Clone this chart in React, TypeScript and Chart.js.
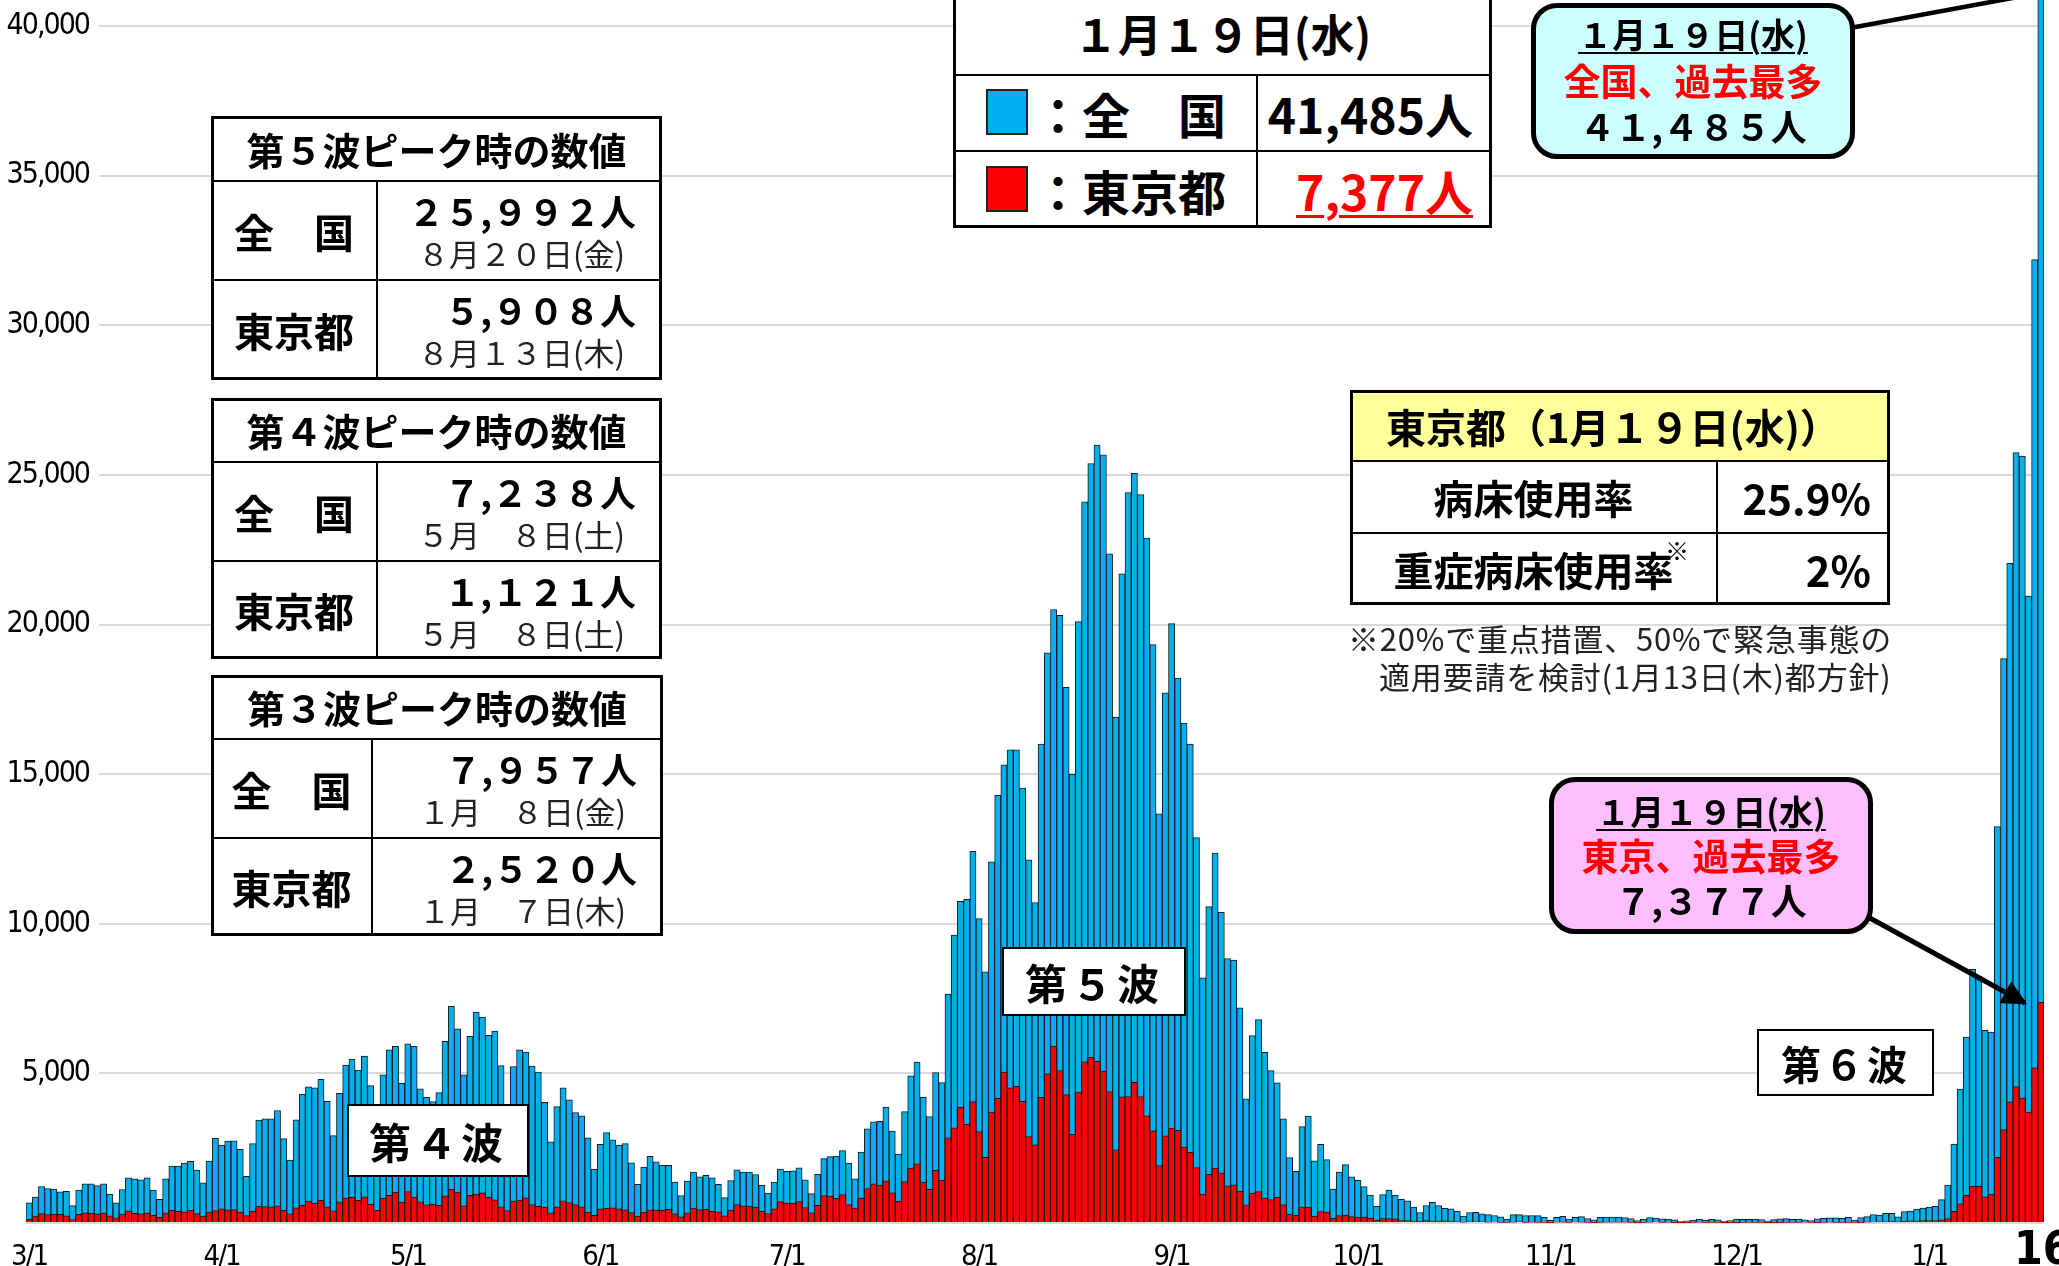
import React, { useEffect, useRef, Fragment } from 'react';
import { Chart, registerables } from 'chart.js';
Chart.register(...registerables);

// ---- categories (2021/3/1 .. 2022/1/19) ----
const monthDays: [number, number][] = [[3, 31], [4, 30], [5, 31], [6, 30], [7, 31], [8, 31], [9, 30], [10, 31], [11, 30], [12, 31], [1, 19]];
const dateLabels: string[] = [];
monthDays.forEach(([m, d]) => { for (let i = 1; i <= d; i++) dateLabels.push(`${m}/${i}`); });

// ---- y tick values ----
const yTicks = [0, 5000, 10000, 15000, 20000, 25000, 30000, 35000, 40000];

// ---- 全国 (nationwide) daily new cases ----
const japanMar = [670, 870, 1220, 1150, 1130, 1040, 1060, 580, 1100, 1310, 1310, 1250, 1310, 960, 670, 1120, 1510, 1480, 1440, 1510, 1100, 790, 1480, 1900, 1900, 2000, 2060, 1770, 1340, 2070, 2830];
const japanApr = [2600, 2740, 2750, 2460, 1560, 2650, 3440, 3480, 3480, 3760, 2820, 2100, 3450, 4300, 4550, 4520, 4800, 4070, 2920, 4330, 5280, 5480, 5110, 5580, 4590, 3300, 4950, 5790, 5900, 4670];
const japanMay = [5990, 5900, 4480, 4200, 4060, 4360, 6070, 7238, 6490, 4950, 6240, 7050, 6880, 6270, 6410, 5260, 3680, 5230, 5790, 5710, 5240, 5040, 4030, 2710, 3890, 4520, 4120, 3690, 3580, 2850, 1790];
const japanJun = [2630, 3020, 2780, 2600, 2650, 2010, 1290, 1870, 2230, 2040, 1930, 1930, 1370, 920, 1400, 1700, 1540, 1590, 1510, 1290, 850, 1420, 1780, 1700, 1700, 1620, 1260, 1000, 1370, 1800];
const japanJul = [1730, 1740, 1840, 1440, 980, 1630, 2150, 2220, 2240, 2420, 2000, 1480, 2370, 3150, 3380, 3400, 3870, 3070, 2300, 3720, 4920, 5380, 4200, 3560, 5030, 4690, 7650, 9620, 10750, 10820, 12420];
const japanAug = [10170, 8390, 12070, 14290, 15310, 15810, 15810, 14530, 12140, 10710, 16000, 19050, 20500, 20310, 17900, 15000, 20100, 24100, 25380, 25992, 25670, 22360, 16910, 21690, 24410, 25050, 24340, 22890, 19330, 13670, 17720];
const japanSep = [20030, 18210, 16710, 16000, 12880, 8190, 10570, 12360, 10380, 8840, 8790, 7190, 4150, 6260, 6800, 5700, 5090, 4680, 3480, 2190, 1730, 3220, 3570, 2080, 2630, 2120, 1130, 1700, 1950, 1540];
const japanOct = [1430, 1220, 930, 560, 950, 1100, 930, 790, 740, 530, 350, 580, 690, 580, 490, 470, 400, 230, 350, 360, 310, 280, 250, 210, 130, 280, 280, 250, 250, 250, 190];
const japanNov = [86, 190, 224, 130, 190, 213, 150, 103, 192, 200, 201, 196, 184, 148, 78, 126, 180, 165, 142, 132, 105, 50, 75, 100, 134, 100, 126, 107, 67, 84];
const japanDec = [133, 119, 125, 135, 118, 72, 111, 136, 146, 124, 135, 102, 82, 137, 158, 175, 175, 155, 189, 94, 178, 213, 283, 261, 323, 326, 204, 383, 401, 465, 502];
const japanJan = [534, 553, 782, 1265, 2638, 4475, 6214, 8480, 8249, 6438, 6378, 13244, 18860, 22045, 25742, 25630, 20950, 32197, 41485];

// ---- 東京都 (Tokyo) daily new cases ----
const tokyoMar = [121, 232, 316, 279, 301, 293, 237, 116, 290, 340, 335, 304, 330, 239, 175, 300, 409, 323, 303, 342, 256, 187, 337, 420, 394, 376, 430, 313, 234, 364, 414];
const tokyoApr = [475, 440, 446, 355, 249, 399, 555, 545, 537, 570, 421, 306, 510, 591, 729, 667, 759, 543, 405, 711, 843, 861, 759, 876, 635, 425, 828, 925, 1027, 697];
const tokyoMay = [1050, 870, 708, 609, 621, 591, 907, 1121, 1032, 573, 925, 969, 1010, 854, 772, 542, 419, 732, 766, 843, 618, 561, 535, 340, 538, 743, 684, 614, 539, 363, 260];
const tokyoJun = [471, 487, 508, 472, 436, 351, 235, 369, 440, 439, 435, 467, 304, 209, 337, 501, 452, 453, 388, 376, 236, 435, 619, 570, 562, 534, 386, 317, 476, 714];
const tokyoJul = [673, 660, 716, 518, 342, 593, 920, 896, 822, 950, 614, 502, 830, 1149, 1308, 1271, 1410, 1008, 727, 1387, 1832, 1979, 1359, 1128, 1763, 1429, 2848, 3177, 3865, 3300, 4058];
const tokyoAug = [3058, 2195, 3709, 4166, 5042, 4515, 4566, 4066, 2884, 2612, 4200, 4989, 5908, 5094, 4295, 2962, 4377, 5386, 5534, 5405, 5074, 4392, 2447, 4220, 4228, 4704, 4227, 3581, 3081, 1915, 2909];
const tokyoSep = [3168, 3099, 2539, 2362, 1853, 968, 1629, 1834, 1675, 1242, 1273, 1067, 611, 1004, 1052, 831, 782, 862, 617, 302, 253, 537, 531, 235, 382, 362, 154, 248, 267, 218];
const tokyoOct = [200, 196, 161, 87, 149, 144, 138, 82, 82, 60, 49, 77, 65, 62, 72, 66, 40, 29, 36, 41, 36, 26, 32, 19, 17, 29, 36, 21, 24, 22, 17];
const tokyoNov = [9, 31, 24, 21, 32, 25, 22, 9, 19, 24, 28, 30, 27, 23, 6, 22, 25, 32, 19, 27, 13, 10, 8, 21, 24, 22, 23, 21, 7, 12];
const tokyoDec = [15, 16, 20, 22, 18, 14, 9, 13, 21, 16, 18, 24, 21, 12, 18, 26, 22, 21, 22, 21, 11, 30, 33, 38, 37, 46, 41, 56, 76, 64, 78];
const tokyoJan = [79, 84, 103, 151, 390, 641, 922, 1224, 1223, 871, 962, 2198, 3124, 4051, 4561, 4172, 3709, 5185, 7377];

const japan = [...japanMar, ...japanApr, ...japanMay, ...japanJun, ...japanJul, ...japanAug, ...japanSep, ...japanOct, ...japanNov, ...japanDec, ...japanJan];
const tokyo = [...tokyoMar, ...tokyoApr, ...tokyoMay, ...tokyoJun, ...tokyoJul, ...tokyoAug, ...tokyoSep, ...tokyoOct, ...tokyoNov, ...tokyoDec, ...tokyoJan];

const yMax = 40869;

const JP = "'Noto Sans CJK JP', 'Noto Sans CJK SC', sans-serif";
const NARROW = "'DejaVu Sans Condensed', 'Liberation Sans Narrow', 'Liberation Sans', sans-serif";
const Y_TICK_SIZE = 30;
const X_TICK_SIZE = 29;

type TP = { x: number; y: number; w: number; h: number; align?: 'left' | 'center' | 'right'; size: number; weight?: number; color?: string; ls?: number; ff?: string; children?: any; extra?: any };
function Txt(p: TP) {
  return (
    <div style={{
      position: 'absolute', left: p.x, top: p.y, width: p.w, height: p.h, display: 'flex', alignItems: 'center',
      justifyContent: p.align === 'left' ? 'flex-start' : p.align === 'right' ? 'flex-end' : 'center',
      fontSize: p.size, fontWeight: p.weight ?? 700, color: p.color ?? '#000', fontFamily: p.ff ?? JP,
      lineHeight: 1, whiteSpace: 'nowrap', letterSpacing: p.ls ?? 0, ...(p.extra || {}),
    }}>{p.children}</div>
  );
}
function Rect({ x, y, w, h, bw = 3, bg = '#fff', r = 0 }: any) {
  return <div style={{ position: 'absolute', left: x, top: y, width: w, height: h, border: `${bw}px solid #000`, background: bg, borderRadius: r, boxSizing: 'border-box' }} />;
}
function HL({ x, y, w, t = 2.5 }: any) {
  return <div style={{ position: 'absolute', left: x, top: y - t / 2, width: w, height: t, background: '#000' }} />;
}
function VL({ x, y, h, t = 2.5 }: any) {
  return <div style={{ position: 'absolute', left: x - t / 2, top: y, width: t, height: h, background: '#000' }} />;
}

function PeakTable({ x0, x1, y0, yH, yR, y1, xd, title, rows }: any) {
  return (
    <>
      <Rect x={x0} y={y0} w={x1 - x0} h={y1 - y0} bw={3} />
      <HL x={x0} y={yH} w={x1 - x0} />
      <HL x={x0} y={yR} w={x1 - x0} />
      <VL x={xd} y={yH} h={y1 - yH} />
      <Txt x={x0} y={y0} w={x1 - x0} h={yH - y0} size={38}>{title}</Txt>
      {rows.map((r: any, k: number) => {
        const top = k === 0 ? yH : yR;
        const bot = k === 0 ? yR : y1;
        return (
          <Fragment key={k}>
            <Txt x={x0} y={top} w={xd - x0} h={bot - top} size={40}>{r.name}</Txt>
            <Txt x={xd} y={top + 29 - 22} w={x1 - 26 - xd} h={44} align="right" size={36}>{r.num}</Txt>
            <Txt x={xd} y={top + 71 - 18} w={x1 - 37 - xd} h={36} align="right" size={31} weight={400} color="#222">{r.date}</Txt>
          </Fragment>
        );
      })}
    </>
  );
}

const tightText = {
  id: 'tightText',
  beforeDraw(c: any) { try { (c.ctx as any).letterSpacing = '-2px'; } catch (e) { /* ignore */ } },
  afterDraw(c: any) { try { (c.ctx as any).letterSpacing = '0px'; } catch (e) { /* ignore */ } },
};

export default function App() {
  const ref = useRef<HTMLCanvasElement>(null);
  useEffect(() => {
    const m = document.createElement('canvas').getContext('2d') as CanvasRenderingContext2D;
    m.font = `${Y_TICK_SIZE}px ${NARROW}`;
    const widest = m.measureText('40,000').width;
    const labelRight = 89; // right edge of y tick labels (page px)
    const areaLeft = 26;
    const chart = new Chart(ref.current as HTMLCanvasElement, {
      type: 'bar',
      data: {
        labels: dateLabels,
        datasets: [
          { label: '東京都', data: tokyo, backgroundColor: '#FF0000', borderColor: '#1a1a1a', borderWidth: 1, grouped: false, order: 0, barPercentage: 1, categoryPercentage: 1 } as any,
          { label: '全国', data: japan, backgroundColor: '#00B0F0', borderColor: '#1a1a1a', borderWidth: 1, grouped: false, order: 1, barPercentage: 1, categoryPercentage: 1 } as any,
        ],
      },
      plugins: [tightText as any],
      options: {
        responsive: false,
        animation: false,
        layout: { padding: { left: areaLeft, right: 15, top: 0, bottom: 0 } },
        plugins: { legend: { display: false }, tooltip: { enabled: false } },
        scales: {
          x: {
            grid: { display: false },
            border: { display: false },
            ticks: {
              autoSkip: false, maxRotation: 0, minRotation: 0, padding: 9, color: '#000',
              font: { family: NARROW, size: X_TICK_SIZE },
              callback: (_v: any, i: number) => (dateLabels[i].endsWith('/1') ? dateLabels[i] : ''),
            },
            afterFit: (s: any) => { s.height = 43; s.paddingLeft = 0; s.paddingRight = 0; },
          },
          y: {
            min: 0, max: yMax,
            grid: { color: '#D9D9D9', lineWidth: 2, drawTicks: false },
            border: { display: false },
            ticks: {
              autoSkip: false,
              mirror: true, crossAlign: 'far',
              padding: labelRight - areaLeft - widest, color: '#000',
              font: { family: NARROW, size: Y_TICK_SIZE },
              callback: (v: any) => (Number(v) === 0 ? '' : Number(v).toLocaleString('en-US')),
              showLabelBackdrop: (ctx: any) => !!ctx.tick && ctx.tick.value !== 0,
              backdropColor: '#ffffff',
              backdropPadding: { top: 3, bottom: 3, left: 60, right: 10 },
            } as any,
            afterBuildTicks: (s: any) => { s.ticks = yTicks.map((v) => ({ value: v })); },
            afterFit: (s: any) => { s.width = 0; s.paddingTop = 0; s.paddingBottom = 0; },
          },
        },
      } as any,
    });
    return () => chart.destroy();
  }, []);

  return (
    <div style={{ position: 'absolute', left: 0, top: 0, width: 2059, height: 1266, overflow: 'hidden', background: '#fff' }}>
      <canvas ref={ref} width={2059} height={1266} style={{ position: 'absolute', left: 0, top: 0, width: 2059, height: 1266 }} />
      <svg width={2059} height={1266} style={{ position: 'absolute', left: 0, top: 0 }}>
        <defs>
          <marker id="ah" markerWidth="5" markerHeight="5" refX="4.5" refY="2.5" orient="auto" markerUnits="strokeWidth">
            <path d="M0,0 L5,2.5 L0,5 z" fill="#000" />
          </marker>
        </defs>
        <line x1={1850} y1={28} x2={2045} y2={-8} stroke="#000" strokeWidth={4.5} />
        <line x1={1868} y1={917} x2={2025} y2={1003} stroke="#000" strokeWidth={5} markerEnd="url(#ah)" />
      </svg>

      {/* top legend table */}
      <Rect x={953} y={-40} w={539} h={268} bw={3} />
      <HL x={953} y={75} w={539} />
      <HL x={953} y={151} w={539} />
      <VL x={1257} y={75} h={153} />
      <Txt x={953} y={8} w={539} h={50} size={44}>１月１９日(水)</Txt>
      <div style={{ position: 'absolute', left: 986, top: 89, width: 42, height: 46, background: '#00B0F0', border: '2px solid #222', boxSizing: 'border-box' }} />
      <div style={{ position: 'absolute', left: 986, top: 166, width: 42, height: 46, background: '#FF0000', border: '2px solid #222', boxSizing: 'border-box' }} />
      <Txt x={1034} y={88} w={220} h={50} align="left" size={48}>：全　国</Txt>
      <Txt x={1034} y={165} w={220} h={50} align="left" size={48}>：東京都</Txt>
      <Txt x={1257} y={88} w={216} h={50} align="right" size={48}>41,485人</Txt>
      <Txt x={1257} y={165} w={216} h={50} align="right" size={48} color="#FF0000" extra={{ textDecoration: 'underline', textDecorationThickness: 3, textUnderlineOffset: 4 }}>7,377人</Txt>

      {/* cyan callout */}
      <Rect x={1531} y={3} w={324} h={156} bw={5} bg="#CCFFFF" r={26} />
      <Txt x={1531} y={14} w={324} h={40} size={34} extra={{ textDecoration: 'underline', textDecorationThickness: 2, textUnderlineOffset: 4 }}>１月１９日(水)</Txt>
      <Txt x={1531} y={60} w={324} h={40} size={37} color="#FF0000">全国、過去最多</Txt>
      <Txt x={1531} y={105} w={324} h={40} size={36}>４１,４８５人</Txt>

      {/* peak tables */}
      <PeakTable x0={211} x1={662} y0={116} yH={181} yR={280} y1={380} xd={377} title="第５波ピーク時の数値"
        rows={[{ name: '全　国', num: '２５,９９２人', date: '８月２０日(金)' }, { name: '東京都', num: '５,９０８人', date: '８月１３日(木)' }]} />
      <PeakTable x0={211} x1={662} y0={398} yH={462} yR={561} y1={659} xd={377} title="第４波ピーク時の数値"
        rows={[{ name: '全　国', num: '７,２３８人', date: '５月　８日(土)' }, { name: '東京都', num: '１,１２１人', date: '５月　８日(土)' }]} />
      <PeakTable x0={211} x1={663} y0={675} yH={739} yR={838} y1={936} xd={372} title="第３波ピーク時の数値"
        rows={[{ name: '全　国', num: '７,９５７人', date: '１月　８日(金)' }, { name: '東京都', num: '２,５２０人', date: '１月　７日(木)' }]} />

      {/* Tokyo bed table */}
      <Rect x={1350} y={390} w={540} h={215} bw={3} />
      <div style={{ position: 'absolute', left: 1353, top: 393, width: 534, height: 67, background: '#FFFF99' }} />
      <HL x={1350} y={461} w={540} />
      <HL x={1350} y={533} w={540} />
      <VL x={1717} y={461} h={144} />
      <Txt x={1386} y={404} w={500} h={44} align="left" size={40}>東京都（1月１９日(水)）</Txt>
      <Txt x={1350} y={475} w={367} h={44} size={40}>病床使用率</Txt>
      <Txt x={1717} y={475} w={154} h={44} align="right" size={42}>25.9%</Txt>
      <Txt x={1350} y={547} w={367} h={44} size={40}>重症病床使用率</Txt>
      <Txt x={1662} y={536} w={30} h={28} size={24} weight={400}>※</Txt>
      <Txt x={1717} y={547} w={154} h={44} align="right" size={42}>2%</Txt>
      <Txt x={1348} y={620} w={620} h={34} align="left" size={31} weight={400} color="#222" ls={0.8}>※20%で重点措置、50%で緊急事態の</Txt>
      <Txt x={1379} y={658} w={620} h={34} align="left" size={31} weight={400} color="#222" ls={0.8}>適用要請を検討(1月13日(木)都方針)</Txt>

      {/* pink callout */}
      <Rect x={1549} y={777} w={324} h={157} bw={5} bg="#FFBEFF" r={26} />
      <Txt x={1549} y={791} w={324} h={40} size={34} extra={{ textDecoration: 'underline', textDecorationThickness: 2, textUnderlineOffset: 4 }}>１月１９日(水)</Txt>
      <Txt x={1549} y={835} w={324} h={40} size={37} color="#FF0000">東京、過去最多</Txt>
      <Txt x={1549} y={879} w={324} h={40} size={36}>７,３７７人</Txt>

      {/* wave labels */}
      <Rect x={1002} y={947} w={184} h={69} bw={2.5} />
      <Txt x={1002} y={947} w={184} h={69} size={42} ls={4}>第５波</Txt>
      <Rect x={347} y={1104} w={182} h={73} bw={2.5} />
      <Txt x={347} y={1104} w={182} h={73} size={42} ls={4}>第４波</Txt>
      <Rect x={1757} y={1029} w={177} h={67} bw={2.5} />
      <Txt x={1757} y={1029} w={177} h={67} size={40} ls={3}>第６波</Txt>

      <Txt x={2014} y={1226} w={80} h={44} align="left" size={46} ff={NARROW}>16</Txt>
    </div>
  );
}
